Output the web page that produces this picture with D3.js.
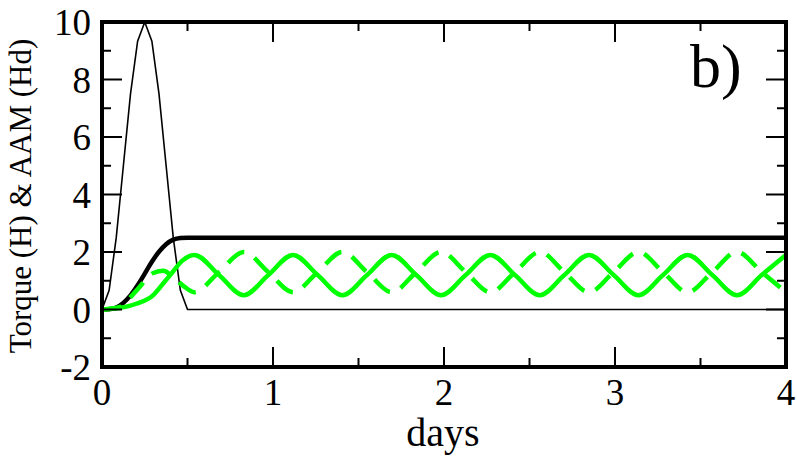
<!DOCTYPE html>
<html>
<head>
<meta charset="utf-8">
<script src="https://cdn.jsdelivr.net/npm/d3@7"></script>
<style>
  body { margin: 0; background: #fff; }
  .serif { font-family: "Liberation Serif", "DejaVu Serif", "Noto Serif", Times, serif; }
</style>
</head>
<body>
<script>
// torque H, sampled hourly (days)
const torqueDays = [0, 0.0417, 0.0833, 0.125, 0.1667, 0.2083, 0.25, 0.2917, 0.3333, 0.375, 0.4167, 0.4583, 0.5, 4];
const torqueValues = [0, 0.67, 2.5, 5, 7.5, 9.33, 10, 9.33, 7.5, 5, 2.5, 0.67, 0, 0];

// total AAM (Hd), thick black
const aamDays = [0, 0.0417, 0.0833, 0.125, 0.1667, 0.2083, 0.25, 0.2917, 0.3333, 0.375, 0.4167, 0.4583, 0.5, 4];
const aamValues = [0, 0.01, 0.07, 0.23, 0.49, 0.84, 1.25, 1.66, 2.01, 2.27, 2.43, 2.49, 2.5, 2.5];

// green components
const greenDays = [0, 0.1, 0.2, 0.3, 0.36, 0.41, 0.47, 0.54, 0.684, 0.829, 0.973, 1.117, 1.261, 1.406, 1.55,
  1.694, 1.838, 1.983, 2.127, 2.271, 2.415, 2.56, 2.704, 2.848, 2.992, 3.137, 3.281, 3.425, 3.569, 3.714, 3.858, 4.0];
const greenSolid = [0, 0.05, 0.2, 0.5, 0.92, 1.28, 1.7, 1.9, 1.2, 0.5, 1.2, 1.9, 1.2, 0.5, 1.2,
  1.9, 1.2, 0.5, 1.2, 1.9, 1.2, 0.5, 1.2, 1.9, 1.2, 0.5, 1.2, 1.9, 1.2, 0.5, 1.2, 1.9];
const greenDashed = [0, 0.08, 0.65, 1.27, 1.35, 1.15, 0.85, 0.6, 1.3, 2.0, 1.3, 0.6, 1.3, 2.0, 1.3,
  0.6, 1.3, 2.0, 1.3, 0.6, 1.3, 2.0, 1.3, 0.6, 1.3, 2.0, 1.3, 0.6, 1.3, 2.0, 1.3, 0.6];

const xTicks = [0, 1, 2, 3, 4];
const xMinor = [0.5, 1.5, 2.5, 3.5];
const yTicks = [-2, 0, 2, 4, 6, 8, 10];
const yMinor = [-1, 1, 3, 5, 7, 9];

const width = 797;
const height = 461;
const pl = 102, pr = 786, pt = 22, pb = 367;

const x = d3.scaleLinear().domain([0, 4]).range([pl, pr]);
const y = d3.scaleLinear().domain([-2, 10]).range([pb, pt]);

const svg = d3.select("body").append("svg")
  .attr("width", width)
  .attr("height", height)
  .style("display", "block");

svg.append("defs").append("clipPath").attr("id", "clip")
  .append("rect")
  .attr("x", pl).attr("y", pt)
  .attr("width", pr - pl).attr("height", pb - pt);

const plot = svg.append("g").attr("clip-path", "url(#clip)");

function pts(days, vals) {
  return days.map((d, i) => [d, vals[i]]);
}

const lineLin = d3.line().x(d => x(d[0])).y(d => y(d[1]));
const lineSmooth = d3.line().x(d => x(d[0])).y(d => y(d[1])).curve(d3.curveMonotoneX);

// torque (thin)
plot.append("path")
  .attr("d", lineLin(pts(torqueDays, torqueValues)))
  .attr("fill", "none").attr("stroke", "#000").attr("stroke-width", 1.6);

// AAM total
plot.append("path")
  .attr("d", lineSmooth(pts(aamDays, aamValues)))
  .attr("fill", "none").attr("stroke", "#000").attr("stroke-width", 4.5);

// green solid
plot.append("path")
  .attr("d", lineSmooth(pts(greenDays, greenSolid)))
  .attr("fill", "none").attr("stroke", "#00ff00").attr("stroke-width", 4.5);

// green dashed
plot.append("path")
  .attr("d", lineSmooth(pts(greenDays, greenDashed)))
  .attr("fill", "none").attr("stroke", "#00ff00").attr("stroke-width", 4.5)
  .attr("stroke-dasharray", "20,12");

// ticks, inward on all four sides
const tk = svg.append("g").attr("stroke", "#000").attr("stroke-width", 2);
xTicks.concat(xMinor).forEach(v => {
  const len = xTicks.includes(v) ? 20 : 9;
  tk.append("line").attr("x1", x(v)).attr("x2", x(v)).attr("y1", pb).attr("y2", pb - len);
  tk.append("line").attr("x1", x(v)).attr("x2", x(v)).attr("y1", pt).attr("y2", pt + len);
});
yTicks.concat(yMinor).forEach(v => {
  const len = yTicks.includes(v) ? 20 : 9;
  tk.append("line").attr("y1", y(v)).attr("y2", y(v)).attr("x1", pl).attr("x2", pl + len);
  tk.append("line").attr("y1", y(v)).attr("y2", y(v)).attr("x1", pr).attr("x2", pr - len);
});

// frame
svg.append("rect")
  .attr("x", pl).attr("y", pt)
  .attr("width", pr - pl).attr("height", pb - pt)
  .attr("fill", "none").attr("stroke", "#000").attr("stroke-width", 4);

// tick labels
svg.selectAll(".xl").data(xTicks).enter().append("text")
  .attr("class", "serif")
  .attr("x", d => x(d)).attr("y", 405)
  .attr("text-anchor", "middle")
  .attr("font-size", 37)
  .text(d => d);

svg.selectAll(".yl").data(yTicks).enter().append("text")
  .attr("class", "serif")
  .attr("x", 91).attr("y", d => y(d) + 13)
  .attr("text-anchor", "end")
  .attr("font-size", 37)
  .text(d => d);

// axis titles
svg.append("text")
  .attr("class", "serif")
  .attr("x", 443).attr("y", 446)
  .attr("text-anchor", "middle")
  .attr("font-size", 40)
  .text("days");

svg.append("text")
  .attr("class", "serif")
  .attr("transform", "translate(30.5,196) rotate(-90)")
  .attr("text-anchor", "middle")
  .attr("font-size", 31)
  .text("Torque (H) & AAM (Hd)");

svg.append("text")
  .attr("class", "serif")
  .attr("x", 690).attr("y", 87)
  .attr("font-size", 62)
  .text("b)");
</script>
</body>
</html>
